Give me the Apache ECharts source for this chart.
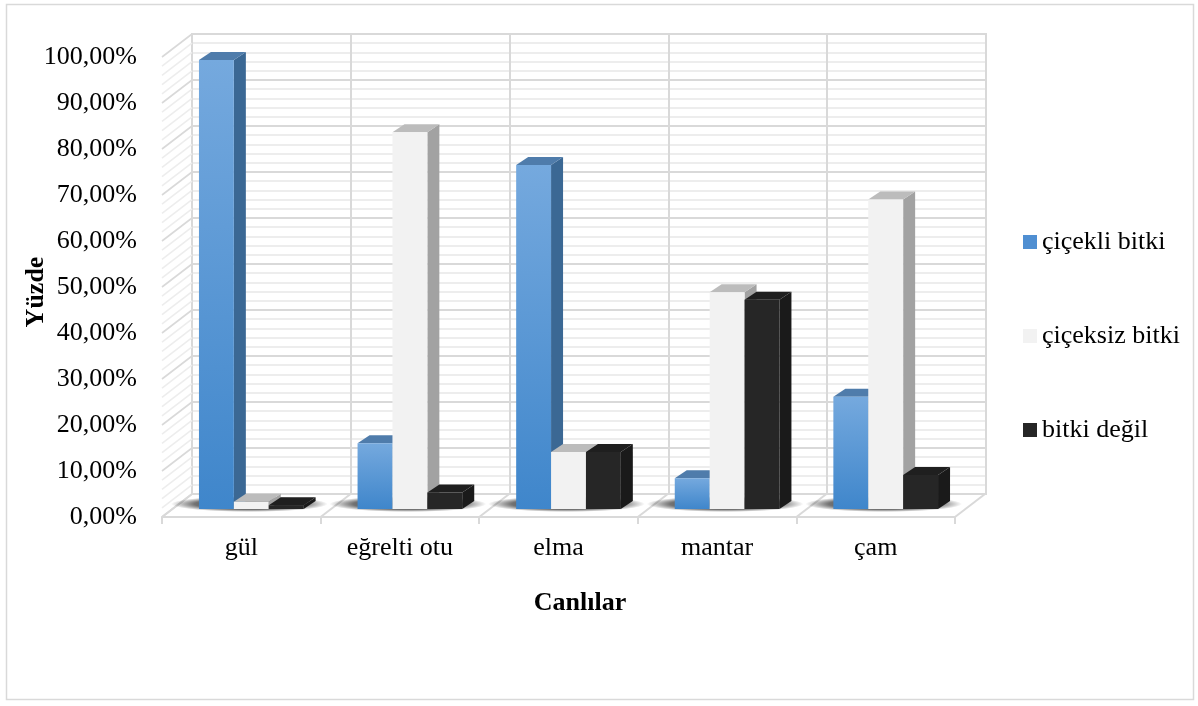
<!DOCTYPE html>
<html>
<head>
<meta charset="utf-8">
<script src="https://cdn.jsdelivr.net/npm/echarts@6/dist/echarts.min.js"></script>
<style>
  html, body { margin: 0; padding: 0; background: #ffffff; }
  #chart { width: 1198px; height: 706px; }
</style>
</head>
<body>
<div id="chart"></div>
<script>
// Survey answers: share of each classification per organism
const categories = ['gül', 'eğrelti otu', 'elma', 'mantar', 'çam'];
const seriesNames = ['çiçekli bitki', 'çiçeksiz bitki', 'bitki değil'];
const cicekliBitki  = [0.976, 0.143, 0.748, 0.067, 0.244];
const ciceksizBitki = [0.016, 0.819, 0.124, 0.471, 0.673];
const bitkiDegil    = [0.008, 0.036, 0.124, 0.455, 0.074];
const yTickLabels = ['0,00%', '10,00%', '20,00%', '30,00%', '40,00%', '50,00%',
                     '60,00%', '70,00%', '80,00%', '90,00%', '100,00%'];

const FONT = '"Liberation Serif", "Times New Roman", serif';
const FS = 26;

// pseudo-3D offsets in pixels
const WALL_DX = 30, WALL_DY = -23;        // back wall behind the front floor edge
const BAR_DX = 10, BAR_DY = -8;           // front plane of the bars
const DEPTH_DX = 12, DEPTH_DY = -8;       // thickness of each bar
const BAR_RATIO = 0.22;                   // bar width as share of a category

const faces = [
  {
    front: new echarts.graphic.LinearGradient(0, 0, 0, 1, [
      { offset: 0, color: '#75a9de' }, { offset: 1, color: '#3f86cb' }
    ]),
    side: '#3b6894', top: '#4f7cab', legend: '#4f8fd2'
  },
  { front: '#f2f2f2', side: '#a2a2a2', top: '#bcbcbc', legend: '#f2f2f2' },
  { front: '#262626', side: '#1a1a1a', top: '#1f1f1f', legend: '#262626' }
];

const chart = echarts.init(document.getElementById('chart'), null, { renderer: 'canvas' });

function line(x1, y1, x2, y2, color, w) {
  return { type: 'line', shape: { x1, y1, x2, y2 }, style: { stroke: color, lineWidth: w } };
}

// side wall and floor lines of the 3D frame
function renderFrame(params, api) {
  const cs = params.coordSys;
  const children = [];
  for (let i = 0; i <= 50; i++) {
    const v = i / 50;
    const y = api.coord([0, v])[1];
    const major = i % 5 === 0;
    children.push(line(cs.x, y, cs.x + WALL_DX, y + WALL_DY, major ? '#d9d9d9' : '#ededed', 1.6));
  }
  const yb = cs.y + cs.height;
  for (let i = 0; i <= categories.length; i++) {
    const x = cs.x + i * cs.width / categories.length;
    children.push(line(x, yb, x + WALL_DX, yb + WALL_DY, '#d9d9d9', 2));
  }
  return { type: 'group', children };
}

// soft floor shadow under each group of bars
function renderShadow(params, api) {
  const base = api.coord([api.value(0), 0]);
  const bw = api.size([1, 0])[0] * BAR_RATIO;
  return {
    type: 'circle',
    x: base[0] + BAR_DX - 2,
    y: base[1] + BAR_DY - 5,
    scaleX: bw * 1.5 + 26,
    scaleY: 8,
    shape: { cx: 0, cy: 0, r: 1 },
    style: {
      fill: new echarts.graphic.RadialGradient(0.5, 0.5, 0.5, [
        { offset: 0, color: 'rgba(0,0,0,0.9)' },
        { offset: 0.7, color: 'rgba(0,0,0,0.55)' },
        { offset: 1, color: 'rgba(0,0,0,0)' }
      ])
    }
  };
}

function makeBarRenderer(k) {
  return function (params, api) {
    const ci = api.value(0);
    const v = api.value(1);
    const base = api.coord([ci, 0]);
    const top = api.coord([ci, v]);
    const bw = api.size([1, 0])[0] * BAR_RATIO;
    const x0 = base[0] + BAR_DX - 1.5 * bw + k * bw;
    const x1 = x0 + bw;
    const yb = base[1] + BAR_DY;
    const yt = top[1] + BAR_DY;
    const f = faces[k];
    return {
      type: 'group',
      children: [
        {
          type: 'polygon',
          shape: { points: [[x1, yt], [x1 + DEPTH_DX, yt + DEPTH_DY], [x1 + DEPTH_DX, yb + DEPTH_DY], [x1, yb]] },
          style: { fill: f.side }
        },
        {
          type: 'polygon',
          shape: { points: [[x0, yt], [x0 + DEPTH_DX, yt + DEPTH_DY], [x1 + DEPTH_DX, yt + DEPTH_DY], [x1, yt]] },
          style: { fill: f.top }
        },
        {
          type: 'rect',
          shape: { x: x0, y: yt, width: bw, height: yb - yt },
          style: { fill: f.front }
        }
      ]
    };
  };
}

const seriesValues = [cicekliBitki, ciceksizBitki, bitkiDegil];

const barSeries = seriesValues.map((vals, k) => ({
  type: 'custom',
  name: seriesNames[k],
  coordinateSystem: 'cartesian2d',
  xAxisIndex: 0,
  yAxisIndex: 0,
  z: 5,
  itemStyle: { color: faces[k].legend },
  renderItem: makeBarRenderer(k),
  encode: { x: 0, y: 1 },
  data: vals.map((v, i) => [i, v])
}));

const option = {
  animation: false,
  backgroundColor: '#ffffff',
  grid: [
    { left: 162, top: 57, width: 793, height: 460 },                 // front plane
    { left: 192, top: 34, width: 794, height: 460, show: true,       // back wall
      borderColor: '#d9d9d9', borderWidth: 2, backgroundColor: 'transparent' }
  ],
  xAxis: [
    {
      type: 'category', gridIndex: 0, data: categories,
      axisLine: { show: true, lineStyle: { color: '#d9d9d9', width: 2 } },
      axisTick: { show: true, length: 7, interval: 0, lineStyle: { color: '#d9d9d9', width: 2 } },
      axisLabel: { interval: 0, margin: 18, color: '#000', fontFamily: FONT, fontSize: FS },
      splitLine: { show: false }
    },
    {
      type: 'category', gridIndex: 1, data: categories,
      axisLine: { show: false }, axisTick: { show: false }, axisLabel: { show: false },
      splitLine: { show: true, interval: 0, lineStyle: { color: '#d9d9d9', width: 2 } }
    }
  ],
  yAxis: [
    {
      type: 'value', gridIndex: 0, min: 0, max: 1, interval: 0.1,
      axisLine: { show: false }, axisTick: { show: false }, splitLine: { show: false },
      axisLabel: {
        margin: 25, color: '#000', fontFamily: FONT, fontSize: FS,
        formatter: (v) => yTickLabels[Math.round(v * 10)]
      }
    },
    {
      type: 'value', gridIndex: 1, min: 0, max: 1, interval: 0.1,
      axisLine: { show: false }, axisTick: { show: false }, axisLabel: { show: false },
      minorTick: { show: false, splitNumber: 5 },
      splitLine: { show: true, lineStyle: { color: '#d9d9d9', width: 2 } },
      minorSplitLine: { show: true, lineStyle: { color: '#ededed', width: 2 } }
    }
  ],
  legend: {
    orient: 'vertical',
    left: 1023, top: 229,
    padding: 0,
    itemWidth: 14, itemHeight: 14, itemGap: 68,
    icon: 'rect',
    textStyle: { fontFamily: FONT, fontSize: FS, color: '#000', lineHeight: 26 },
    data: seriesNames.map((n, k) => ({ name: n, itemStyle: { color: faces[k].legend } }))
  },
  graphic: [
    {
      type: 'rect', silent: true, z: -10,
      shape: { x: 6.5, y: 4.5, width: 1187, height: 695 },
      style: { fill: 'none', stroke: '#d9d9d9', lineWidth: 1.5 }
    },
    {
      type: 'text', x: 36, y: 292, rotation: Math.PI / 2,
      style: { text: 'Yüzde', font: 'bold ' + FS + 'px ' + FONT, fill: '#000',
               textAlign: 'center', textVerticalAlign: 'middle' }
    },
    {
      type: 'text', x: 580, y: 603,
      style: { text: 'Canlılar', font: 'bold ' + FS + 'px ' + FONT, fill: '#000',
               textAlign: 'center', textVerticalAlign: 'middle' }
    }
  ],
  series: [
    {
      type: 'custom', name: 'frame', coordinateSystem: 'cartesian2d',
      xAxisIndex: 0, yAxisIndex: 0, silent: true, z: 1,
      renderItem: renderFrame, data: [[0, 0]]
    },
    {
      type: 'custom', name: 'shadow', coordinateSystem: 'cartesian2d',
      xAxisIndex: 0, yAxisIndex: 0, silent: true, z: 2,
      renderItem: renderShadow, data: categories.map((c, i) => [i, 0])
    }
  ].concat(barSeries)
};

chart.setOption(option);
</script>
</body>
</html>
